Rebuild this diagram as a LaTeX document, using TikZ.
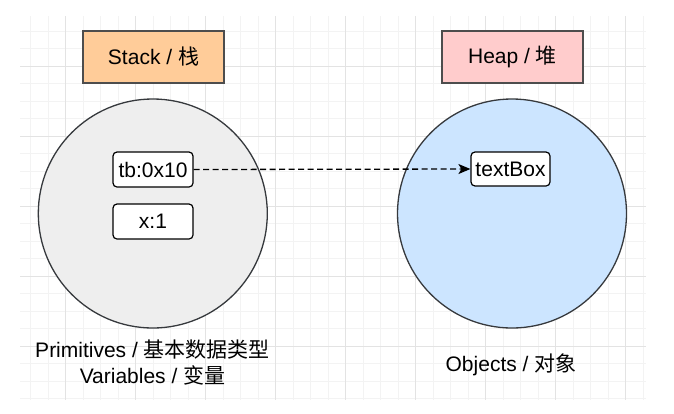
\documentclass[tikz,border=0pt]{standalone}
\usepackage{fontspec}
\setmainfont{Liberation Sans}
\newfontfamily\cjk{Noto Sans CJK SC}
\usetikzlibrary{arrows.meta}
\definecolor{gridminor}{HTML}{F3F3F3}
\definecolor{gridmajor}{HTML}{E3E3E3}
\definecolor{stackfill}{HTML}{FFCC99}
\definecolor{heapfill}{HTML}{FFCCCC}
\definecolor{boxline}{HTML}{4D4D4D}
\definecolor{circline}{HTML}{36393D}
\definecolor{stackcirc}{HTML}{EEEEEE}
\definecolor{heapcirc}{HTML}{CCE5FF}
\tikzset{
  txt/.style={font=\fontsize{21}{25}\selectfont},
  header/.style={txt, draw=boxline, line width=2pt, minimum width=141pt, minimum height=52pt, inner sep=0pt},
  region/.style={circle, draw=circline, line width=1.3pt, minimum size=229pt, inner sep=0pt},
  cell/.style={txt, draw=black, fill=white, line width=1.2pt, rounded corners=4pt, minimum width=80pt, minimum height=35pt, inner sep=0pt},
  ptr/.style={dashed, dash pattern=on 6pt off 3.5pt, line width=1.3pt, -{Stealth[length=12pt,width=10pt,inset=3pt]}},
  caption/.style={txt, anchor=base, inner sep=0pt}
}
\begin{document}
\begin{tikzpicture}[x=1pt,y=-1pt]
\useasboundingbox[fill=white] (0,0) rectangle (674,413);
% grid
\foreach \gx in {0,...,35} { \draw[gridminor, line width=0.8pt] (30.7+17.5*\gx,16) -- (30.7+17.5*\gx,400); }
\foreach \gy in {0,...,21} { \draw[gridminor, line width=0.8pt] (20,31+17.5*\gy) -- (646,31+17.5*\gy); }
\foreach \gx in {0,...,8} { \draw[gridmajor, line width=0.9pt] (65.7+70*\gx,16) -- (65.7+70*\gx,400); }
\foreach \gy in {0,...,4} { \draw[gridmajor, line width=0.9pt] (20,66+70*\gy) -- (646,66+70*\gy); }
% headers
\node[header, fill=stackfill] (stack) at (153.5,57) {Stack / {\cjk 栈}};
\node[header, fill=heapfill] (heap) at (512.5,57) {Heap / {\cjk 堆}};
% regions
\node[region, fill=stackcirc] (stackc) at (152.8,213.5) {};
\node[region, fill=heapcirc] (heapc) at (512,213.5) {};
% cells
\node[cell] (tb) at (153,169.5) {tb:0x10};
\node[cell] (x) at (153,221.5) {x:1};
\node[cell, minimum width=79pt, minimum height=34pt] (textbox) at (510.5,169) {textBox};
\draw[ptr] (tb.east) -- (textbox.west);
% captions
\node[caption] (prim) at (152.5,357) {Primitives / {\cjk 基本数据类型}};
\node[caption] (vars) at (152.5,383) {Variables / {\cjk 变量}};
\node[caption] (objs) at (511,371) {Objects / {\cjk 对象}};
\end{tikzpicture}
\end{document}
